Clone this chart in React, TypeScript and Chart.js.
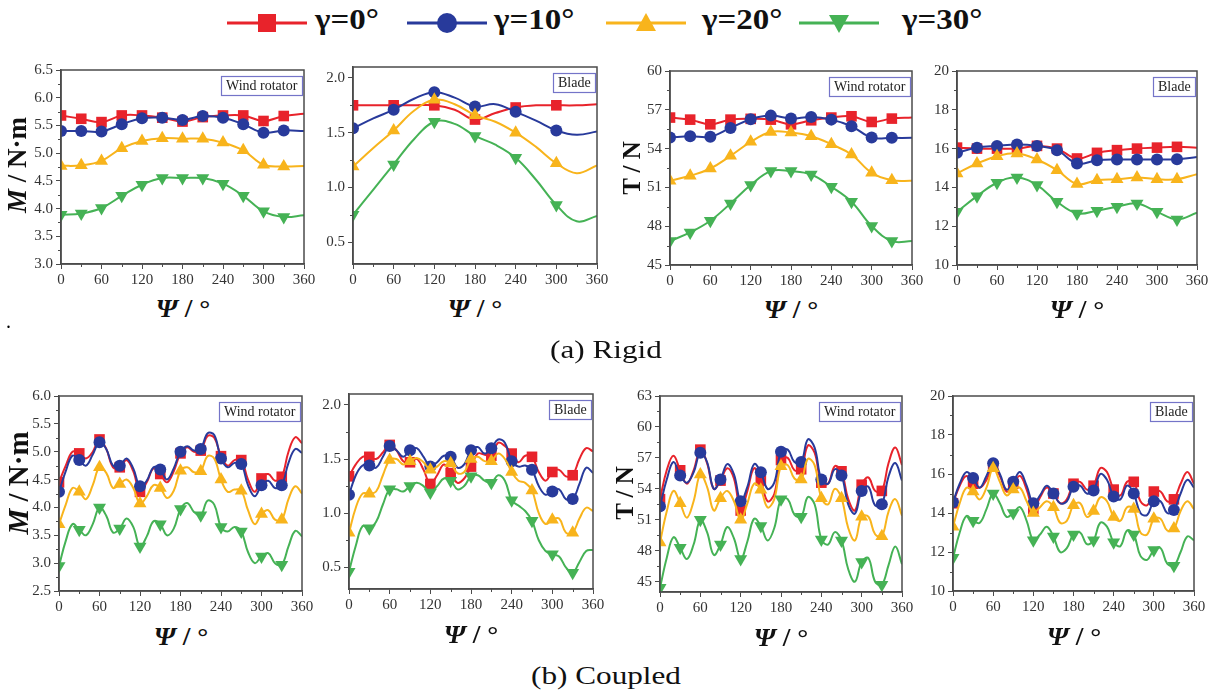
import React, { useEffect, useRef } from 'react';
import { Chart, registerables } from 'chart.js';
Chart.register(...registerables);

// ---------- data ----------
const GAMMA_LABELS = ['γ=0°', 'γ=10°', 'γ=20°', 'γ=30°'];
const SERIES_COLORS = ['#e8232b', '#283a9b', '#f8b41c', '#45b255'];
const MARKER_STYLES = ['rect', 'circle', 'triangle', 'triangle'];
const MARKER_ROTATION = [0, 0, 0, 180];

const PSI_30 = [0, 30, 60, 90, 120, 150, 180, 210, 240, 270, 300, 330, 360];
const PSI_10 = [0, 10, 20, 30, 40, 50, 60, 70, 80, 90, 100, 110, 120, 130, 140, 150, 160, 170, 180,
  190, 200, 210, 220, 230, 240, 250, 260, 270, 280, 290, 300, 310, 320, 330, 340, 350, 360];
const PSI_TICKS = [0, 60, 120, 180, 240, 300, 360];

// (a) Rigid — M, wind rotator
const RIGID_M_ROTOR_G0 = [5.68, 5.62, 5.56, 5.68, 5.68, 5.64, 5.57, 5.65, 5.68, 5.68, 5.58, 5.67, 5.71];
const RIGID_M_ROTOR_G10 = [5.40, 5.40, 5.39, 5.52, 5.63, 5.64, 5.60, 5.67, 5.64, 5.52, 5.37, 5.41, 5.40];
const RIGID_M_ROTOR_G20 = [4.77, 4.78, 4.86, 5.09, 5.22, 5.27, 5.26, 5.26, 5.19, 5.05, 4.79, 4.76, 4.77];
const RIGID_M_ROTOR_G30 = [3.89, 3.91, 4.01, 4.23, 4.43, 4.55, 4.55, 4.55, 4.45, 4.23, 3.95, 3.85, 3.88];
// (a) Rigid — M, blade
const RIGID_M_BLADE_G0 = [1.75, 1.75, 1.75, 1.75, 1.75, 1.71, 1.62, 1.68, 1.73, 1.75, 1.75, 1.75, 1.76];
const RIGID_M_BLADE_G10 = [1.54, 1.63, 1.71, 1.81, 1.87, 1.82, 1.74, 1.76, 1.69, 1.61, 1.52, 1.48, 1.51];
const RIGID_M_BLADE_G20 = [1.19, 1.36, 1.52, 1.70, 1.80, 1.76, 1.66, 1.60, 1.50, 1.37, 1.22, 1.13, 1.20];
const RIGID_M_BLADE_G30 = [0.75, 0.98, 1.21, 1.44, 1.60, 1.58, 1.47, 1.39, 1.27, 1.07, 0.84, 0.69, 0.74];
// (a) Rigid — T, wind rotator
const RIGID_T_ROTOR_G0 = [56.40, 56.24, 55.88, 56.24, 56.30, 56.24, 55.88, 56.19, 56.40, 56.50, 56.06, 56.32, 56.40];
const RIGID_T_ROTOR_G10 = [54.85, 54.96, 54.91, 55.60, 56.27, 56.55, 56.32, 56.45, 56.24, 55.73, 54.85, 54.83, 54.83];
const RIGID_T_ROTOR_G20 = [51.51, 51.90, 52.46, 53.44, 54.52, 55.29, 55.24, 54.96, 54.34, 53.54, 52.13, 51.56, 51.51];
const RIGID_T_ROTOR_G30 = [46.85, 47.52, 48.42, 49.76, 51.18, 52.26, 52.26, 52.00, 51.05, 49.89, 48.01, 46.85, 46.85];
// (a) Rigid — T, blade
const RIGID_T_BLADE_G0 = [16.05, 16.00, 16.00, 16.00, 16.14, 16.00, 15.49, 15.78, 15.92, 16.00, 16.05, 16.09, 16.05];
const RIGID_T_BLADE_G10 = [15.78, 16.05, 16.14, 16.21, 16.14, 15.92, 15.23, 15.40, 15.44, 15.44, 15.44, 15.45, 15.57];
const RIGID_T_BLADE_G20 = [14.72, 15.23, 15.61, 15.75, 15.44, 14.89, 14.17, 14.37, 14.42, 14.51, 14.42, 14.42, 14.68];
const RIGID_T_BLADE_G30 = [12.74, 13.55, 14.24, 14.51, 14.12, 13.26, 12.66, 12.80, 13.00, 13.17, 12.74, 12.35, 12.69];

// (b) Coupled — M, wind rotator
const COUPLED_M_ROTOR_G0 = [4.45, 4.75, 5.00, 4.97, 4.88, 5.00, 5.22, 5.05, 4.72, 4.72, 4.85, 4.65, 4.28, 4.45, 4.70, 4.60, 4.45, 4.65, 4.97,
  5.08, 5.00, 5.02, 5.28, 5.25, 4.92, 4.75, 4.85, 4.85, 4.50, 4.28, 4.52, 4.60, 4.48, 4.55, 5.00, 5.26, 5.15];
const COUPLED_M_ROTOR_G10 = [4.28, 4.65, 4.93, 4.85, 4.75, 4.95, 5.17, 5.05, 4.75, 4.75, 4.88, 4.70, 4.38, 4.48, 4.72, 4.68, 4.50, 4.70, 5.00,
  5.10, 5.02, 5.05, 5.33, 5.30, 4.88, 4.72, 4.80, 4.78, 4.40, 4.20, 4.40, 4.48, 4.35, 4.40, 4.80, 5.05, 4.98];
const COUPLED_M_ROTOR_G20 = [3.70, 4.05, 4.35, 4.28, 4.15, 4.40, 4.72, 4.62, 4.35, 4.42, 4.50, 4.35, 4.07, 4.20, 4.40, 4.35, 4.17, 4.30, 4.66,
  4.72, 4.63, 4.65, 4.92, 4.88, 4.50, 4.28, 4.32, 4.30, 3.95, 3.70, 3.88, 3.95, 3.78, 3.78, 4.15, 4.38, 4.25];
const COUPLED_M_ROTOR_G30 = [2.95, 3.40, 3.70, 3.60, 3.50, 3.70, 4.00, 3.85, 3.55, 3.62, 3.80, 3.65, 3.30, 3.48, 3.75, 3.70, 3.50, 3.62, 3.97,
  4.08, 3.92, 3.86, 4.12, 4.05, 3.65, 3.57, 3.65, 3.57, 3.20, 3.00, 3.12, 3.18, 3.00, 2.97, 3.30, 3.58, 3.48];
// (b) Coupled — M, blade
const COUPLED_M_BLADE_G0 = [1.34, 1.45, 1.52, 1.52, 1.50, 1.56, 1.63, 1.58, 1.48, 1.47, 1.50, 1.40, 1.27, 1.35, 1.45, 1.37, 1.28, 1.32, 1.43,
  1.55, 1.54, 1.53, 1.65, 1.62, 1.55, 1.47, 1.53, 1.52, 1.38, 1.30, 1.38, 1.40, 1.34, 1.35, 1.50, 1.60, 1.57];
const COUPLED_M_BLADE_G10 = [1.17, 1.35, 1.44, 1.44, 1.42, 1.52, 1.62, 1.58, 1.52, 1.58, 1.60, 1.52, 1.43, 1.47, 1.53, 1.52, 1.42, 1.45, 1.58,
  1.61, 1.55, 1.60, 1.68, 1.65, 1.48, 1.43, 1.44, 1.40, 1.25, 1.17, 1.20, 1.22, 1.13, 1.13, 1.27, 1.42, 1.37];
const COUPLED_M_BLADE_G20 = [0.82, 1.05, 1.18, 1.18, 1.20, 1.35, 1.49, 1.50, 1.45, 1.48, 1.51, 1.47, 1.40, 1.43, 1.48, 1.46, 1.37, 1.38, 1.50,
  1.52, 1.48, 1.48, 1.55, 1.50, 1.38, 1.30, 1.28, 1.21, 1.00, 0.90, 0.94, 0.95, 0.82, 0.82, 0.95, 1.05, 1.02];
const COUPLED_M_BLADE_G30 = [0.46, 0.70, 0.88, 0.86, 0.92, 1.08, 1.22, 1.22, 1.20, 1.25, 1.28, 1.25, 1.19, 1.25, 1.32, 1.30, 1.22, 1.25, 1.34,
  1.35, 1.30, 1.28, 1.35, 1.30, 1.12, 1.07, 1.02, 0.93, 0.75, 0.65, 0.62, 0.60, 0.50, 0.45, 0.55, 0.65, 0.66];
// (b) Coupled — T, wind rotator
const COUPLED_T_ROTOR_G0 = [53.0, 55.8, 57.2, 55.8, 54.5, 55.8, 57.8, 56.5, 54.0, 54.8, 56.0, 55.0, 51.9, 53.8, 56.0, 54.8, 52.8, 53.5, 56.8,
  57.0, 55.8, 55.9, 58.2, 57.5, 54.6, 54.5, 56.2, 55.7, 53.0, 51.9, 54.4, 55.1, 53.8, 53.8, 56.5, 58.0, 56.3];
const COUPLED_T_ROTOR_G10 = [52.3, 54.9, 56.6, 55.3, 54.6, 55.6, 57.5, 56.6, 54.0, 54.9, 56.4, 55.4, 52.8, 54.2, 56.4, 55.6, 54.0, 54.6, 57.6,
  57.8, 56.6, 56.6, 58.8, 58.0, 54.9, 54.5, 55.9, 55.3, 52.5, 51.6, 53.8, 54.2, 52.4, 52.5, 55.2, 56.5, 54.8];
const COUPLED_T_ROTOR_G20 = [48.8, 51.8, 53.8, 52.6, 51.2, 52.8, 55.4, 54.2, 51.9, 53.1, 53.8, 52.8, 51.0, 52.6, 54.5, 53.9, 52.2, 53.0, 56.2,
  56.3, 55.0, 54.9, 56.9, 56.3, 53.1, 52.5, 54.0, 53.1, 50.2, 49.0, 51.3, 51.3, 49.6, 49.4, 51.8, 53.0, 51.4];
const COUPLED_T_ROTOR_G30 = [44.4, 47.3, 49.3, 48.3, 47.2, 48.6, 51.0, 49.8, 47.6, 48.6, 50.3, 49.2, 47.2, 48.9, 51.1, 50.4, 49.0, 50.2, 53.0,
  53.0, 51.5, 51.3, 53.2, 52.5, 49.1, 48.6, 49.8, 49.0, 46.2, 45.0, 46.9, 47.3, 45.0, 44.7, 46.6, 48.4, 46.7];
// (b) Coupled — T, blade
const COUPLED_T_BLADE_G0 = [14.5, 15.4, 15.9, 15.5, 15.3, 15.7, 16.4, 15.9, 15.1, 15.5, 15.9, 15.2, 14.2, 14.8, 15.3, 15.0, 14.5, 14.7, 15.5,
  15.6, 15.2, 15.4, 16.3, 16.1, 15.2, 14.9, 15.6, 15.6, 14.6, 14.4, 15.1, 15.1, 14.6, 14.7, 15.5, 16.1, 15.5];
const COUPLED_T_BLADE_G10 = [14.55, 15.5, 16.1, 15.8, 15.3, 15.9, 16.55, 16.0, 15.2, 15.6, 16.1, 15.4, 14.5, 14.9, 15.4, 15.0, 14.5, 14.6, 15.35,
  15.4, 15.0, 15.15, 16.0, 15.7, 14.85, 14.7, 15.4, 15.0, 14.0, 13.9, 14.6, 14.6, 14.0, 14.15, 15.0, 15.7, 15.3];
const COUPLED_T_BLADE_G20 = [13.3, 14.5, 15.3, 15.1, 14.7, 15.3, 16.3, 15.6, 14.9, 15.2, 15.3, 14.6, 14.0, 14.3, 14.6, 14.3, 13.5, 13.6, 14.4,
  14.5, 13.8, 14.1, 14.8, 14.6, 13.8, 13.6, 14.3, 14.2, 13.0, 12.9, 13.7, 13.7, 13.1, 13.2, 14.1, 14.6, 14.2];
const COUPLED_T_BLADE_G30 = [11.7, 13.0, 13.85, 13.6, 13.5, 14.2, 15.0, 14.5, 13.8, 14.0, 14.3, 13.6, 12.6, 12.9, 13.3, 12.8, 12.0, 12.2, 12.9,
  13.0, 12.4, 12.6, 13.5, 13.3, 12.5, 12.3, 13.1, 12.9, 11.8, 11.6, 12.1, 12.2, 11.4, 11.3, 12.0, 12.8, 12.6];

// y-axis tick labels
const M_ROTOR_RIGID_TICKS = [3.0, 3.5, 4.0, 4.5, 5.0, 5.5, 6.0, 6.5];
const M_BLADE_TICKS = [0.5, 1.0, 1.5, 2.0];
const T_ROTOR_RIGID_TICKS = [45, 48, 51, 54, 57, 60];
const T_BLADE_TICKS = [10, 12, 14, 16, 18, 20];
const M_ROTOR_COUPLED_TICKS = [2.5, 3.0, 3.5, 4.0, 4.5, 5.0, 5.5, 6.0];
const T_ROTOR_COUPLED_TICKS = [45, 48, 51, 54, 57, 60, 63];

// ---------- panels ----------
type PanelSpec = {
  key: string; left: number; top: number; right: number; bottom: number;
  yMin: number; yMax: number; yTicks: number[]; decimals: number;
  label: string; xs: number[]; series: number[][]; markEvery: number;
};

const PANELS: PanelSpec[] = [
  { key: 'a1', left: 61, top: 70, right: 304, bottom: 264, yMin: 3.0, yMax: 6.5, yTicks: M_ROTOR_RIGID_TICKS, decimals: 1,
    label: 'Wind rotator', xs: PSI_30, markEvery: 1,
    series: [RIGID_M_ROTOR_G0, RIGID_M_ROTOR_G10, RIGID_M_ROTOR_G20, RIGID_M_ROTOR_G30] },
  { key: 'a2', left: 353, top: 67, right: 597, bottom: 264, yMin: 0.3, yMax: 2.1, yTicks: M_BLADE_TICKS, decimals: 1,
    label: 'Blade', xs: PSI_30, markEvery: 2,
    series: [RIGID_M_BLADE_G0, RIGID_M_BLADE_G10, RIGID_M_BLADE_G20, RIGID_M_BLADE_G30] },
  { key: 'a3', left: 670, top: 71, right: 912, bottom: 265, yMin: 45, yMax: 60, yTicks: T_ROTOR_RIGID_TICKS, decimals: 0,
    label: 'Wind rotator', xs: PSI_30, markEvery: 1,
    series: [RIGID_T_ROTOR_G0, RIGID_T_ROTOR_G10, RIGID_T_ROTOR_G20, RIGID_T_ROTOR_G30] },
  { key: 'a4', left: 957, top: 71, right: 1197, bottom: 265, yMin: 10, yMax: 20, yTicks: T_BLADE_TICKS, decimals: 0,
    label: 'Blade', xs: PSI_30, markEvery: 1,
    series: [RIGID_T_BLADE_G0, RIGID_T_BLADE_G10, RIGID_T_BLADE_G20, RIGID_T_BLADE_G30] },
  { key: 'b1', left: 59, top: 396, right: 302, bottom: 591, yMin: 2.5, yMax: 6.0, yTicks: M_ROTOR_COUPLED_TICKS, decimals: 1,
    label: 'Wind rotator', xs: PSI_10, markEvery: 3,
    series: [COUPLED_M_ROTOR_G0, COUPLED_M_ROTOR_G10, COUPLED_M_ROTOR_G20, COUPLED_M_ROTOR_G30] },
  { key: 'b2', left: 349, top: 394, right: 593, bottom: 589, yMin: 0.3, yMax: 2.1, yTicks: M_BLADE_TICKS, decimals: 1,
    label: 'Blade', xs: PSI_10, markEvery: 3,
    series: [COUPLED_M_BLADE_G0, COUPLED_M_BLADE_G10, COUPLED_M_BLADE_G20, COUPLED_M_BLADE_G30] },
  { key: 'b3', left: 660, top: 396, right: 902, bottom: 592, yMin: 44, yMax: 63, yTicks: T_ROTOR_COUPLED_TICKS, decimals: 0,
    label: 'Wind rotator', xs: PSI_10, markEvery: 3,
    series: [COUPLED_T_ROTOR_G0, COUPLED_T_ROTOR_G10, COUPLED_T_ROTOR_G20, COUPLED_T_ROTOR_G30] },
  { key: 'b4', left: 953, top: 396, right: 1194, bottom: 591, yMin: 10, yMax: 20, yTicks: T_BLADE_TICKS, decimals: 0,
    label: 'Blade', xs: PSI_10, markEvery: 3,
    series: [COUPLED_T_BLADE_G0, COUPLED_T_BLADE_G10, COUPLED_T_BLADE_G20, COUPLED_T_BLADE_G30] },
];

const SERIF = '"Liberation Serif", Tinos, "Times New Roman", Times, serif';
const AXIS_W = 52;
const AXIS_H = 28;
const PAD_T = 12;
const PAD_R = 20;
const MARKER_R = [7.5, 6, 7.5, 7.5];

const framePlugin = {
  id: 'frame',
  afterDraw(chart: any, _args: any, opts: any) {
    const { ctx, chartArea: a } = chart;
    const xs = chart.scales.x;
    const ys = chart.scales.y;
    ctx.save();
    ctx.strokeStyle = '#4b4b4b';
    ctx.lineWidth = 1.5;
    ctx.strokeRect(a.left, a.top, a.right - a.left, a.bottom - a.top);
    // minor ticks
    ctx.lineWidth = 1;
    const xv = xs.ticks.map((t: any) => t.value);
    for (let i = 0; i < xv.length - 1; i++) {
      const px = Math.round(xs.getPixelForValue((xv[i] + xv[i + 1]) / 2)) + 0.5;
      ctx.beginPath(); ctx.moveTo(px, a.bottom); ctx.lineTo(px, a.bottom + 3); ctx.stroke();
    }
    const yv = ys.ticks.map((t: any) => t.value);
    for (let i = 0; i < yv.length - 1; i++) {
      const py = Math.round(ys.getPixelForValue((yv[i] + yv[i + 1]) / 2)) + 0.5;
      ctx.beginPath(); ctx.moveTo(a.left, py); ctx.lineTo(a.left - 3, py); ctx.stroke();
    }
    // label box
    const label = opts.label as string;
    ctx.font = `14px ${SERIF}`;
    const w = Math.ceil(ctx.measureText(label).width) + 9;
    const h = 19;
    const x = a.right - w - 2;
    const y = a.top + 6;
    ctx.fillStyle = '#ffffff';
    ctx.fillRect(x, y, w, h);
    ctx.strokeStyle = '#7474c8';
    ctx.lineWidth = 1.2;
    ctx.strokeRect(x + 0.5, y + 0.5, w, h);
    ctx.fillStyle = '#222';
    ctx.textBaseline = 'middle';
    ctx.fillText(label, x + 5, y + h / 2 + 1);
    ctx.restore();
  },
};

function Panel({ spec }: { spec: PanelSpec }) {
  const ref = useRef<HTMLCanvasElement | null>(null);
  const w = spec.right - spec.left + AXIS_W + PAD_R;
  const h = spec.bottom - spec.top + PAD_T + AXIS_H;
  useEffect(() => {
    if (!ref.current) return;
    const datasets = spec.series.map((ys, si) => ({
      label: GAMMA_LABELS[si],
      data: spec.xs.map((x, i) => ({ x, y: ys[i] })),
      borderColor: SERIES_COLORS[si],
      backgroundColor: SERIES_COLORS[si],
      pointBackgroundColor: SERIES_COLORS[si],
      pointBorderColor: SERIES_COLORS[si],
      borderWidth: 2,
      tension: 0.4,
      pointStyle: MARKER_STYLES[si],
      pointRotation: MARKER_ROTATION[si],
      pointRadius: (c: any) => (c.dataIndex % spec.markEvery === 0 && c.dataIndex < spec.xs.length - 1 ? MARKER_R[si] : 0),
      pointBorderWidth: 0,
      order: 4 - si,
    }));
    const tickFont = { family: SERIF, size: 15 };
    const chart = new Chart(ref.current, {
      type: 'line',
      data: { datasets },
      plugins: [framePlugin],
      options: {
        animation: false,
        responsive: false,
        maintainAspectRatio: false,
        layout: { padding: { top: PAD_T, right: PAD_R, left: 0, bottom: 0 } },
        plugins: { legend: { display: false }, tooltip: { enabled: false }, frame: { label: spec.label } } as any,
        scales: {
          x: {
            type: 'linear', min: 0, max: 360,
            afterBuildTicks: (s: any) => { s.ticks = PSI_TICKS.map((v) => ({ value: v })); },
            afterFit: (s: any) => { s.height = AXIS_H; },
            ticks: { font: tickFont, color: '#333', padding: 2, maxRotation: 0, callback: (v: any) => String(v) },
            grid: { drawOnChartArea: false, drawTicks: true, tickLength: 5, color: '#4b4b4b', lineWidth: 1 },
            border: { display: true, color: '#4b4b4b', width: 1.5 },
          },
          y: {
            type: 'linear', min: spec.yMin, max: spec.yMax,
            afterBuildTicks: (s: any) => { s.ticks = spec.yTicks.map((v) => ({ value: v })); },
            afterFit: (s: any) => { s.width = AXIS_W; },
            ticks: { font: tickFont, color: '#333', padding: 3, callback: (v: any) => Number(v).toFixed(spec.decimals) },
            grid: { drawOnChartArea: false, drawTicks: true, tickLength: 5, color: '#4b4b4b', lineWidth: 1 },
            border: { display: true, color: '#4b4b4b', width: 1.5 },
          },
        },
      } as any,
    });
    return () => chart.destroy();
  }, [spec]);
  return (
    <div style={{ position: 'absolute', left: spec.left - AXIS_W, top: spec.top - PAD_T, width: w, height: h }}>
      <canvas ref={ref} width={w} height={h} style={{ width: w, height: h, display: 'block' }} />
    </div>
  );
}

function Marker({ si }: { si: number }) {
  const c = SERIES_COLORS[si];
  const cx = 40, cy = 12;
  let shape: React.ReactNode = null;
  if (si === 0) shape = <rect x={cx - 9} y={cy - 9} width={18} height={18} fill={c} />;
  else if (si === 1) shape = <circle cx={cx} cy={cy} r={10} fill={c} />;
  else if (si === 2) shape = <polygon points={`${cx},${cy - 10} ${cx + 10},${cy + 8} ${cx - 10},${cy + 8}`} fill={c} />;
  else shape = <polygon points={`${cx},${cy + 10} ${cx + 10},${cy - 8} ${cx - 10},${cy - 8}`} fill={c} />;
  return (
    <svg width={80} height={24} style={{ display: 'block' }}>
      <line x1={0} y1={cy} x2={80} y2={cy} stroke={c} strokeWidth={3} />
      {shape}
    </svg>
  );
}

const LEGEND_LINE_X = [227, 407, 606, 799];
const LEGEND_TEXT_X = [315, 494, 702, 902];

function Legend() {
  return (
    <>
      {GAMMA_LABELS.map((lab, i) => (
        <React.Fragment key={lab}>
          <div style={{ position: 'absolute', left: LEGEND_LINE_X[i], top: 11 }}><Marker si={i} /></div>
          <div style={{ position: 'absolute', left: LEGEND_TEXT_X[i], top: 1, font: `bold 30px ${SERIF}`, color: '#111',
            transform: 'scaleX(1.1)', transformOrigin: 'left center', whiteSpace: 'nowrap', lineHeight: '36px' }}>{lab}</div>
        </React.Fragment>
      ))}
    </>
  );
}

function YTitle({ cx, cy, italic, rest, size }: { cx: number; cy: number; italic: string; rest: string; size: number }) {
  return (
    <div style={{ position: 'absolute', left: cx, top: cy, transform: 'translate(-50%, -50%) rotate(-90deg)',
      font: `bold ${size}px ${SERIF}`, color: '#111', whiteSpace: 'nowrap', lineHeight: 1 }}>
      {italic ? <span style={{ fontStyle: 'italic' }}>{italic}</span> : null}{rest}
    </div>
  );
}

function XTitle({ cx, cy }: { cx: number; cy: number }) {
  return (
    <div style={{ position: 'absolute', left: cx, top: cy, transform: 'translate(-50%, -50%) scaleX(1.1)',
      font: `bold 25px ${SERIF}`, color: '#111', whiteSpace: 'nowrap', lineHeight: 1 }}>
      <span style={{ fontStyle: 'italic' }}>Ψ</span> / °
    </div>
  );
}

function Caption({ cy, text }: { cy: number; text: string }) {
  return (
    <div style={{ position: 'absolute', left: 606, top: cy, transform: 'translate(-50%, -50%) scaleX(1.2)',
      font: `26px ${SERIF}`, color: '#111', whiteSpace: 'nowrap', lineHeight: 1 }}>{text}</div>
  );
}

export default function App() {
  useEffect(() => {
    document.body.style.margin = '0';
    document.body.style.background = '#ffffff';
  }, []);
  return (
    <div style={{ position: 'relative', width: 1222, height: 693, background: '#fff', overflow: 'hidden' }}>
      <Legend />
      {PANELS.map((p) => <Panel key={p.key} spec={p} />)}
      <YTitle cx={17} cy={165} italic="M" rest=" / N·m" size={27} />
      <YTitle cx={631} cy={168} italic="" rest="T / N" size={25} />
      <YTitle cx={18} cy={483} italic="M" rest=" / N·m" size={29} />
      <YTitle cx={624} cy={493} italic="" rest="T / N" size={25} />
      {PANELS.map((p) => (
        <XTitle key={'xt' + p.key} cx={(p.left + p.right) / 2} cy={p.bottom + (p.key[0] === 'a' ? 44 : 45)} />
      ))}
      <Caption cy={350} text="(a) Rigid" />
      <Caption cy={676} text="(b) Coupled" />
      <div style={{ position: 'absolute', left: 6, top: 310, font: `20px ${SERIF}` }}>.</div>
    </div>
  );
}
